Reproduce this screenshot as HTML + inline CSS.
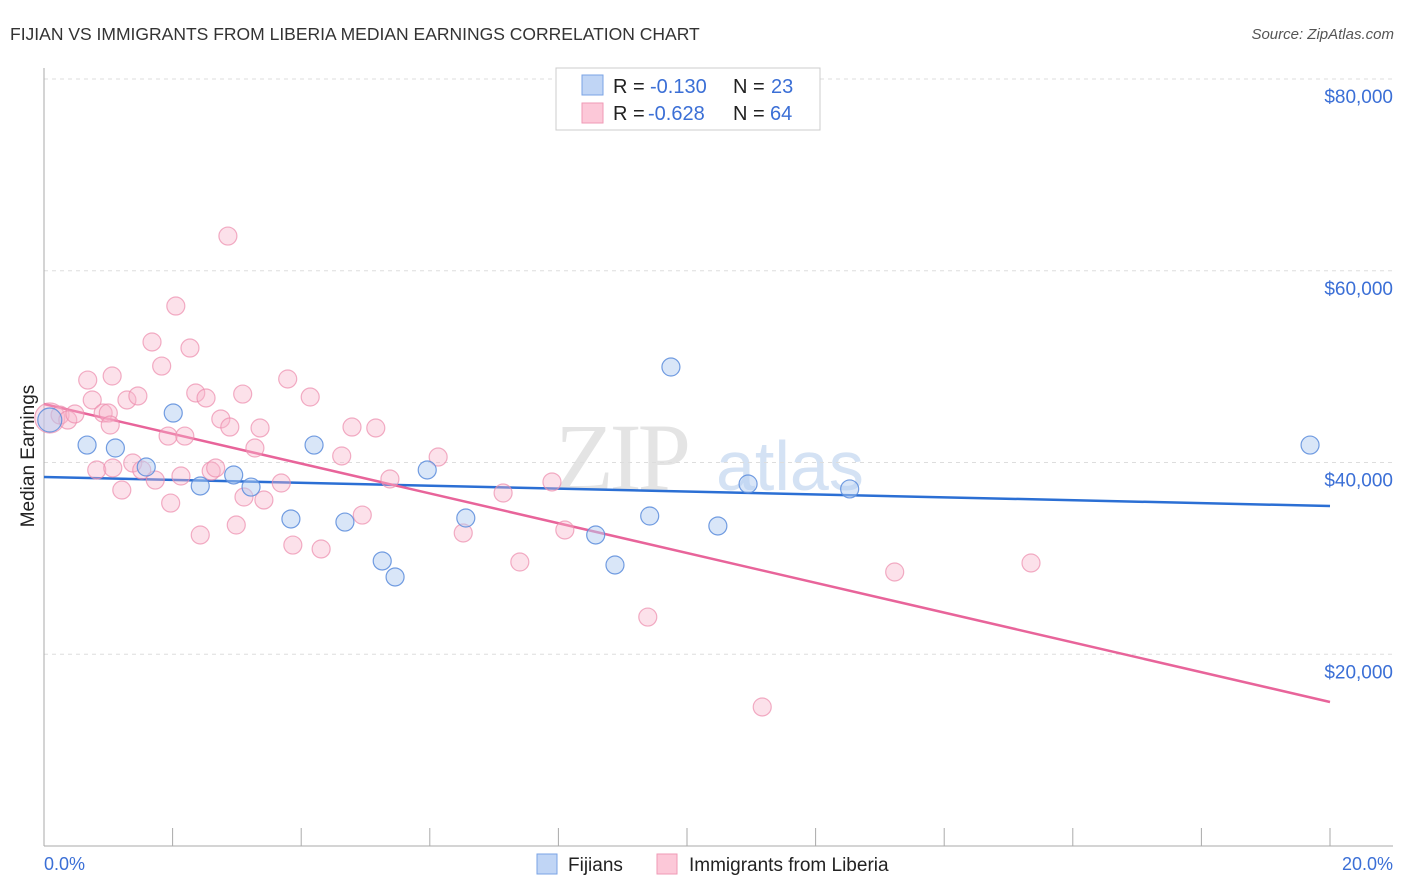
<!DOCTYPE html>
<html><head><meta charset="utf-8"><style>
body{margin:0;background:#fff;font-family:"Liberation Sans",sans-serif;}
svg{display:block}
</style></head><body>
<svg id="c" width="1406" height="892">
<text x="10" y="40" font-size="17.5" fill="#333">FIJIAN VS IMMIGRANTS FROM LIBERIA MEDIAN EARNINGS CORRELATION CHART</text>
<text x="1394" y="39" font-size="15" fill="#555" font-style="italic" text-anchor="end">Source: ZipAtlas.com</text>
<g><text x="555" y="490" font-size="96" fill="#e4e4e4" font-family="Liberation Serif,serif" letter-spacing="-4">ZIP</text><text x="716" y="490" font-size="70" fill="#d4e2f4">atlas</text></g>
<g id="grid"></g>
<g id="axes"></g>
<g id="lines"></g>
<g id="pts"></g>
<text transform="translate(34,456) rotate(-90)" text-anchor="middle" font-size="19" fill="#222">Median Earnings</text>
<text x="44" y="870" font-size="18" fill="#3b6fd6">0.0%</text>
<text x="1393" y="870" font-size="18" fill="#3b6fd6" text-anchor="end">20.0%</text>
<g>
<rect x="556" y="68" width="264" height="62" fill="#fff" stroke="#ccc"/>
<rect x="582" y="75" width="21" height="20" fill="#c0d5f5" stroke="#7aa3e5"/>
<rect x="582" y="103" width="21" height="20" fill="#fcc8d8" stroke="#ef9ab6"/>
<text x="613" y="93" font-size="20" fill="#222">R = <tspan x="650" fill="#3b6fd6">-0.130</tspan><tspan x="733">N = </tspan><tspan x="771" fill="#3b6fd6">23</tspan></text>
<text x="613" y="120" font-size="20" fill="#222">R = <tspan x="648" fill="#3b6fd6">-0.628</tspan><tspan x="733">N = </tspan><tspan x="770" fill="#3b6fd6">64</tspan></text>
</g>
<g>
<rect x="537" y="854" width="20" height="20" fill="#c0d5f5" stroke="#7aa3e5"/>
<text x="568" y="871" font-size="19" fill="#222">Fijians</text>
<rect x="657" y="854" width="20" height="20" fill="#fcc8d8" stroke="#ef9ab6"/>
<text x="689" y="871" font-size="19" fill="#222">Immigrants from Liberia</text>
</g>
</svg>
<script>
const yTicks=[20000,40000,60000,80000];
const yTickLabels=["$20,000","$40,000","$60,000","$80,000"];
const xTicks=[0,2,4,6,8,10,12,14,16,18,20];
const fijiX=[0.09,0.67,1.11,1.59,2.01,2.43,2.95,3.22,3.84,4.20,4.68,5.26,5.46,5.96,6.56,8.58,8.88,9.42,9.75,10.48,10.95,12.53,19.69];
const fijiY=[44430,41820,41510,39530,45160,37550,38700,37440,34110,41820,33790,29730,28060,39220,34210,32440,29310,34420,49960,33380,37760,37240,41820];
const libX=[0.09,0.25,0.37,0.48,0.68,0.75,0.82,0.92,1.00,1.06,1.03,1.07,1.21,1.29,1.38,1.46,1.52,1.68,1.73,1.83,1.93,1.97,2.05,2.13,2.19,2.27,2.36,2.43,2.52,2.60,2.67,2.75,2.86,2.89,2.99,3.09,3.11,3.28,3.36,3.42,3.69,3.79,3.87,4.14,4.31,4.63,4.79,4.95,5.16,5.38,6.13,6.52,7.14,7.40,7.90,8.10,9.39,11.17,13.23,15.35];
const libY=[44640,44950,44430,45060,48600,46520,39220,45160,45160,49020,43910,39430,37130,46520,39950,46940,39220,52570,38170,50060,42760,35770,56320,38590,42760,51940,47250,32440,46730,39110,39430,44540,63620,43700,33480,47140,36400,41510,43600,36090,37860,48710,31390,46830,30980,40680,43700,34520,43600,38280,40570,32650,36820,29620,37970,32960,23880,14500,28580,29520];
const fijiTrend=[38490,35460];
const libTrend=[46100,15020];
const NS='http://www.w3.org/2000/svg';
const X=v=>44+v/20*1286;
const Y=v=>846-v/20000*191.75;
function mk(tag,attrs,parent){const e=document.createElementNS(NS,tag);for(const k in attrs)e.setAttribute(k,attrs[k]);document.getElementById(parent).appendChild(e);return e;}
yTicks.forEach((t,i)=>{
 const l=mk('line',{x1:44,x2:1393,y1:Y(t),y2:Y(t),stroke:'#ddd','stroke-dasharray':'4,4'},'grid');
 
 
 const tx=mk('text',{x:1393,y:Y(t)+24,'font-size':19,fill:'#3b6fd6','text-anchor':'end'},'grid');
 tx.textContent=yTickLabels[i];
 
 
});
const topL=mk('line',{x1:44,x2:1393,y1:79,y2:79,stroke:'#ddd','stroke-dasharray':'4,4'},'grid');
mk('line',{x1:44,x2:44,y1:68,y2:846,stroke:'#aaa'},'axes');
mk('line',{x1:44,x2:1393,y1:846,y2:846,stroke:'#aaa'},'axes');
xTicks.forEach(t=>{
 const l=mk('line',{x1:X(t),x2:X(t),y1:828,y2:846,stroke:'#aaa'},'axes');
 
 
});
const fl=mk('line',{x1:X(0),x2:X(20),y1:Y(fijiTrend[0]),y2:Y(fijiTrend[1]),stroke:'#2b6fd4','stroke-width':2.5},'lines');


const ll=mk('line',{x1:X(0),x2:X(20),y1:Y(libTrend[0]),y2:Y(libTrend[1]),stroke:'#e8649a','stroke-width':2.5},'lines');


libX.forEach((v,i)=>{
 const c=mk('circle',{cx:X(v),cy:Y(libY[i]),r:i===0?15:9,fill:'rgba(248,180,202,0.4)',stroke:'rgba(236,140,172,0.7)','stroke-width':1.2},'pts');
 
 
});
fijiX.forEach((v,i)=>{
 const c=mk('circle',{cx:X(v),cy:Y(fijiY[i]),r:i===0?12:9,fill:'rgba(180,205,242,0.5)',stroke:'rgba(90,140,220,0.85)','stroke-width':1.2},'pts');
 
 
});
</script>
</body></html>
